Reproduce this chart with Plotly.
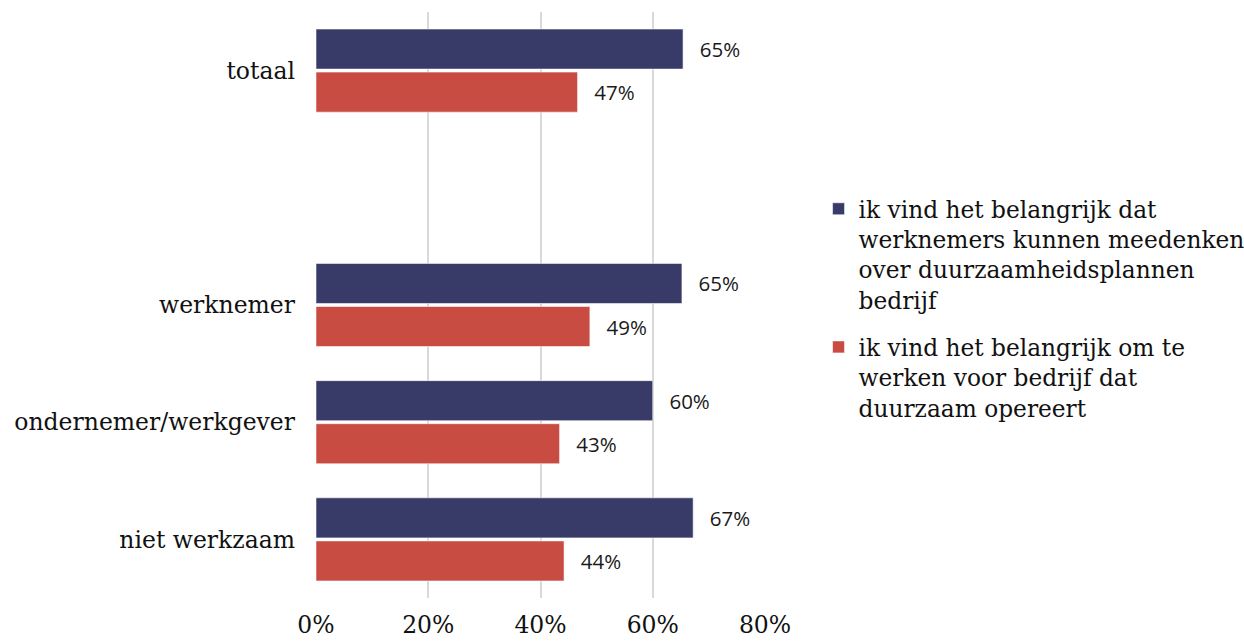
import plotly.graph_objects as go

categories = ["totaal", " ", "werknemer", "ondernemer/werkgever", "niet werkzaam"]
series_names = [
    "ik vind het belangrijk dat<br>werknemers kunnen meedenken<br>over duurzaamheidsplannen<br>bedrijf",
    "ik vind het belangrijk om te<br>werken voor bedrijf dat<br>duurzaam opereert",
]
meedenken = [65.4, None, 65.2, 60.0, 67.2]
duurzaam_werken = [46.6, None, 48.8, 43.4, 44.2]
x_ticks = [0, 20, 40, 60, 80]
x_tick_labels = ["0%", "20%", "40%", "60%", "80%"]

colors = ["#383B68", "#C94C43"]
serif = "DejaVu Serif"
sans = "Open Sans"

fig = go.Figure()
for name, vals, col, grp in zip(series_names, [meedenken, duurzaam_werken], colors, ["a", "b"]):
    fig.add_trace(go.Bar(
        y=categories, x=vals, name=name, orientation="h", legendgroup=grp,
        marker=dict(color=col, line=dict(color="rgba(255,255,255,0.55)", width=1)),
        texttemplate="\u2002\u2009%{x:.0f}%", textposition="outside",
        textfont=dict(family=sans, size=20.5, color="#1a1a1a"),
        constraintext="none", cliponaxis=False,
        hoverinfo="skip",
    ))

fig.update_layout(
    width=1244, height=643,
    margin=dict(l=316, r=479, t=12, b=45),
    paper_bgcolor="white", plot_bgcolor="white",
    barmode="group", bargap=0.265, bargroupgap=0.07,
    showlegend=True,
    legend=dict(
        xref="container", yref="container", x=0.658, y=0.709,
        xanchor="left", yanchor="top", valign="top",
        font=dict(family=serif, size=23.3, color="#111111"),
        tracegroupgap=14,
    ),
    xaxis=dict(
        range=[0, 80], tickvals=x_ticks, ticktext=x_tick_labels,
        showgrid=True, gridcolor="#D9D9D9", gridwidth=1.5,
        zeroline=False, showline=False, automargin=False,
        tickfont=dict(family=serif, size=23.5, color="#111111"),
        ticklabelstandoff=10,
    ),
    yaxis=dict(
        autorange="reversed", showgrid=False, zeroline=False, showline=False,
        automargin=False,
        tickfont=dict(family=serif, size=23.5, color="#111111"),
        ticklabelstandoff=20,
    ),
)

fig.write_html("out.html", config={"displayModeBar": False},
               post_script="document.body.style.margin='0';")
